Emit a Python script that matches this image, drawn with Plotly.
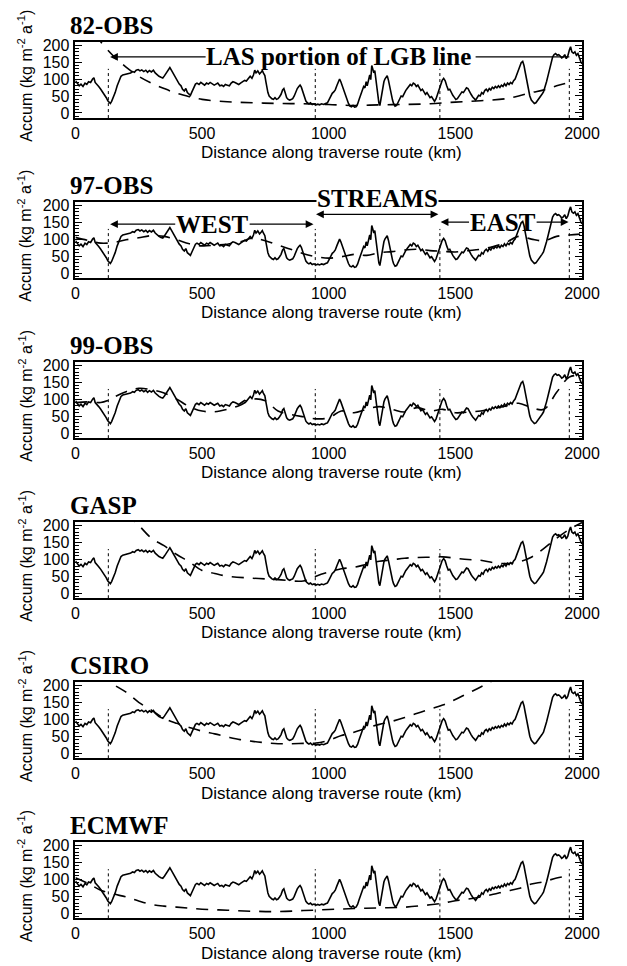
import plotly.graph_objects as go

W, H = 627, 966

# ---------------- data ----------------
dist_km = [0, 8, 15, 22, 30, 38, 45, 52, 60, 68, 73, 78, 85, 92, 100, 108, 115, 122, 128, 133, 138, 143, 150, 157, 165, 172, 180, 187, 195, 203, 210, 218, 226, 233, 240, 248, 255, 262, 270, 278, 285, 292, 300, 308, 315, 322, 330, 338, 345, 352, 360, 367, 373, 380, 387, 395, 402, 410, 417, 423, 430, 436, 442, 448, 454, 460, 467, 474, 480, 488, 495, 502, 510, 518, 525, 532, 540, 548, 555, 562, 570, 578, 585, 592, 600, 608, 615, 622, 630, 638, 645, 652, 660, 668, 675, 682, 690, 697, 703, 708, 713, 720, 727, 733, 738, 742, 748, 752, 756, 760, 765, 770, 776, 782, 788, 794, 800, 806, 812, 818, 823, 828, 834, 840, 846, 852, 858, 864, 870, 876, 882, 887, 892, 898, 904, 910, 916, 922, 928, 935, 942, 950, 957, 964, 972, 980, 988, 995, 1002, 1008, 1014, 1020, 1026, 1032, 1038, 1043, 1048, 1054, 1060, 1066, 1072, 1078, 1084, 1090, 1096, 1102, 1108, 1114, 1120, 1126, 1132, 1138, 1143, 1148, 1152, 1157, 1162, 1166, 1170, 1174, 1178, 1182, 1186, 1190, 1194, 1198, 1202, 1206, 1210, 1214, 1218, 1222, 1226, 1231, 1236, 1240, 1244, 1248, 1252, 1256, 1262, 1268, 1274, 1280, 1286, 1292, 1298, 1304, 1310, 1316, 1322, 1328, 1334, 1340, 1346, 1352, 1358, 1364, 1370, 1376, 1382, 1388, 1394, 1400, 1406, 1412, 1418, 1424, 1430, 1436, 1442, 1448, 1454, 1460, 1466, 1472, 1478, 1484, 1490, 1496, 1502, 1508, 1514, 1520, 1526, 1532, 1538, 1544, 1550, 1556, 1562, 1568, 1574, 1580, 1586, 1592, 1598, 1604, 1610, 1616, 1622, 1628, 1634, 1640, 1646, 1652, 1658, 1664, 1670, 1676, 1682, 1688, 1694, 1700, 1706, 1712, 1718, 1724, 1730, 1736, 1742, 1748, 1754, 1760, 1766, 1771, 1776, 1782, 1788, 1794, 1800, 1806, 1812, 1818, 1824, 1830, 1836, 1842, 1848, 1854, 1860, 1866, 1872, 1878, 1884, 1890, 1896, 1902, 1908, 1914, 1920, 1926, 1932, 1938, 1944, 1950, 1955, 1960, 1966, 1972, 1978, 1984, 1990, 1996, 2000]
obs_accum = [95, 88, 80, 85, 78, 88, 84, 92, 90, 100, 104, 90, 82, 78, 70, 62, 55, 45, 36, 30, 28, 34, 45, 60, 80, 95, 108, 112, 113, 116, 115, 118, 122, 120, 126, 128, 124, 127, 122, 126, 120, 125, 121, 126, 118, 112, 108, 105, 103, 110, 120, 130, 134, 125, 115, 108, 95, 85, 80, 70, 65, 72, 60, 56, 52, 62, 75, 85, 88, 84, 90, 86, 82, 88, 85, 90, 86, 82, 85, 88, 80, 82, 78, 84, 82, 80, 88, 92, 90, 86, 84, 88, 92, 96, 94, 100, 108, 102, 112, 126, 118, 124, 115, 120, 125, 118, 110, 92, 75, 60, 50, 45, 42, 40, 45, 40, 42, 48, 55, 68, 72, 60, 45, 40, 38, 40, 42, 50, 62, 72, 78, 82, 76, 60, 45, 35, 30, 27, 30, 25, 27, 24, 26, 24, 27, 25, 28, 30, 40, 52, 58, 62, 68, 80, 92, 100, 92, 78, 68, 55, 40, 28, 20, 18, 22, 17, 18, 26, 40, 55, 70, 78, 74, 92, 80, 100, 112, 98, 140, 130, 118, 125, 100, 80, 55, 30, 22, 40, 60, 78, 92, 100, 105, 110, 96, 80, 64, 50, 38, 28, 20, 22, 32, 42, 50, 48, 58, 66, 72, 78, 84, 80, 88, 85, 78, 82, 72, 66, 70, 60, 55, 60, 50, 45, 48, 40, 34, 42, 55, 70, 82, 96, 102, 95, 80, 68, 70, 58, 52, 46, 40, 42, 50, 55, 62, 60, 68, 74, 72, 62, 55, 48, 42, 38, 45, 52, 50, 60, 56, 66, 70, 64, 72, 68, 76, 72, 78, 74, 80, 75, 82, 78, 86, 80, 88, 84, 90, 86, 95, 100, 112, 125, 140, 148, 152, 140, 120, 95, 70, 50, 38, 32, 28, 30, 36, 40, 48, 55, 62, 75, 92, 110, 130, 150, 165, 172, 175, 170, 172, 168, 162, 165, 172, 160, 168, 185, 195, 180, 176, 180, 170, 175, 160, 150, 145]

panel_names = ["82-OBS", "97-OBS", "99-OBS", "GASP", "CSIRO", "ECMWF"]

obs82_km = [80, 100, 150, 200, 250, 300, 350, 400, 450, 500, 600, 700, 800, 900, 1000, 1100, 1200, 1300, 1400, 1500, 1600, 1700, 1750, 1800, 1850, 1900, 1950]
obs82_acc = [235, 210, 168, 135, 108, 88, 72, 58, 48, 40, 33, 30, 28, 27, 25, 22, 24, 25, 27, 32, 36, 42, 50, 60, 68, 80, 90]

obs97_km = [0, 50, 100, 150, 200, 250, 300, 350, 400, 450, 500, 550, 600, 650, 700, 750, 800, 850, 900, 950, 1000, 1050, 1100, 1150, 1200, 1250, 1300, 1350, 1400, 1450, 1500, 1550, 1600, 1650, 1700, 1750, 1800, 1850, 1900, 1950, 2000]
obs97_acc = [105, 96, 88, 90, 98, 104, 110, 108, 98, 86, 80, 82, 85, 92, 103, 95, 82, 70, 57, 48, 44, 48, 55, 52, 60, 63, 68, 70, 66, 64, 62, 66, 70, 78, 90, 108, 100, 95, 108, 112, 115]

obs99_km = [0, 50, 100, 125, 150, 200, 250, 300, 350, 400, 450, 500, 550, 600, 650, 700, 750, 800, 850, 900, 950, 1000, 1050, 1100, 1150, 1200, 1250, 1300, 1350, 1400, 1450, 1500, 1550, 1600, 1650, 1700, 1750, 1800, 1850, 1900, 1950, 2000]
obs99_acc = [90, 92, 90, 95, 105, 122, 132, 128, 118, 100, 78, 65, 63, 70, 82, 100, 95, 65, 55, 48, 42, 45, 65, 60, 70, 78, 70, 62, 75, 65, 70, 60, 62, 65, 72, 80, 88, 75, 70, 120, 165, 170]

gasp_km = [200, 250, 300, 350, 400, 450, 500, 550, 600, 700, 800, 900, 950, 1000, 1050, 1100, 1150, 1200, 1250, 1300, 1350, 1400, 1450, 1500, 1550, 1600, 1650, 1700, 1750, 1800, 1850, 1900, 1950, 2000]
gasp_acc = [235, 200, 162, 140, 114, 92, 67, 58, 50, 44, 40, 36, 50, 62, 72, 76, 85, 94, 98, 103, 105, 106, 107, 103, 99, 97, 90, 87, 92, 106, 132, 162, 188, 208]

csiro_km = [100, 150, 200, 250, 300, 350, 400, 450, 500, 550, 600, 650, 700, 750, 800, 850, 900, 950, 1000, 1050, 1100, 1150, 1200, 1250, 1300, 1350, 1400, 1450, 1500, 1550, 1600, 1650]
csiro_acc = [240, 203, 180, 150, 127, 103, 88, 76, 65, 57, 48, 40, 35, 31, 28, 28, 29, 30, 38, 52, 62, 74, 85, 94, 105, 118, 130, 142, 158, 177, 195, 215]

ecmwf_km = [0, 50, 100, 150, 200, 250, 300, 350, 400, 450, 500, 600, 700, 800, 900, 1000, 1100, 1200, 1300, 1400, 1450, 1500, 1550, 1600, 1650, 1700, 1750, 1800, 1850, 1900, 1950]
ecmwf_acc = [105, 88, 68, 57, 48, 36, 26, 21, 18, 15, 12, 9, 6, 5, 8, 11, 14, 16, 18, 25, 30, 37, 42, 48, 56, 65, 73, 86, 93, 104, 110]

compare_km = [obs82_km, obs97_km, obs99_km, gasp_km, csiro_km, ecmwf_km]
compare_acc = [obs82_acc, obs97_acc, obs99_acc, gasp_acc, csiro_acc, ecmwf_acc]

boundary_km = [130, 947, 1439, 1950]
x_ticks = [0, 500, 1000, 1500, 2000]

# ---------------- layout helpers ----------------
PITCH = 161.4
TOP0, BOT0 = 37, 114
X_LEFT, X_RIGHT = 74, 599
YR = [-15, 210]

def py(px):
    return 1 - px / H

def pxx(px):
    return px / W

SANS = "Liberation Sans, Arial, sans-serif"
SERIF = "Liberation Serif, Times New Roman, serif"

fig = go.Figure()
layout = dict(
    width=W, height=H,
    margin=dict(l=0, r=0, t=0, b=0),
    paper_bgcolor="white", plot_bgcolor="white",
    showlegend=False,
    annotations=[], shapes=[],
)

for i, name in enumerate(panel_names):
    n = i + 1
    xa = "x" if n == 1 else f"x{n}"
    ya = "y" if n == 1 else f"y{n}"
    top = TOP0 + PITCH * i
    bot = BOT0 + PITCH * i

    fig.add_trace(go.Scatter(x=dist_km, y=obs_accum, mode="lines",
                             line=dict(color="black", width=1.6),
                             xaxis=xa, yaxis=ya, hoverinfo="skip"))
    fig.add_trace(go.Scatter(x=compare_km[i], y=compare_acc[i], mode="lines",
                             line=dict(color="black", width=1.6, dash="12px,9px", shape="spline"),
                             xaxis=xa, yaxis=ya, hoverinfo="skip"))

    layout[f"xaxis{'' if n == 1 else n}"] = dict(
        domain=[pxx(X_LEFT), pxx(X_RIGHT)], range=[0, 2000], anchor=ya,
        showline=True, mirror=True, linecolor="black", linewidth=1.6,
        ticks="", tickmode="array", tickvals=x_ticks, showgrid=False, zeroline=False,
        tickfont=dict(family=SANS, size=16, color="black"),
        ticklabelstandoff=0,
    )
    layout[f"yaxis{'' if n == 1 else n}"] = dict(
        domain=[py(bot), py(top)], range=YR, anchor=xa,
        showline=True, mirror="ticks", linecolor="black", linewidth=1.6,
        ticks="inside", ticklen=7, tickwidth=1.3, tickcolor="black",
        tickmode="linear", tick0=0, dtick=50, showgrid=False, zeroline=False,
        minor=dict(tickmode="linear", tick0=0, dtick=10, ticks="inside", ticklen=3.5,
                   tickwidth=1, tickcolor="black", showgrid=False),
        tickfont=dict(family=SANS, size=16, color="black"),
        ticklabelstandoff=1,
    )

    # boundary markers
    for b in boundary_km:
        layout["shapes"].append(dict(type="line", xref=xa, yref=ya, x0=b, x1=b, y0=YR[0], y1=130,
                                     line=dict(color="black", width=1, dash="3px,3px")))

    # panel title
    layout["annotations"].append(dict(text=f"<b>{name}</b>", xref="paper", yref="paper",
                                      x=pxx(66), y=py(top - 1), xanchor="left", yanchor="bottom",
                                      showarrow=False, font=dict(family=SERIF, size=25, color="black")))
    # y title
    layout["annotations"].append(dict(text="Accum (kg m<sup>-2</sup> a<sup>-1</sup>)", xref="paper", yref="paper",
                                      x=pxx(22), y=py(top + 34), xanchor="center", yanchor="middle",
                                      textangle=-90, showarrow=False,
                                      font=dict(family=SANS, size=16, color="black")))
    # x title
    layout["annotations"].append(dict(text="Distance along traverse route (km)", xref="paper", yref="paper",
                                      x=pxx(339), y=py(bot + 35), xanchor="center", yanchor="middle",
                                      showarrow=False, font=dict(family=SANS, size=17, color="black")))

BOLD = dict(family=SERIF, size=25, color="black")
ARW = dict(showarrow=True, arrowhead=2, arrowsize=1.3, arrowwidth=1.2, arrowcolor="black", text="")

# Panel 1: LAS portion of LGB line
layout["annotations"].append(dict(text="<b>LAS portion of LGB line</b>", xref="x", yref="y",
                                  x=1040, y=165, showarrow=False, font=BOLD))
layout["annotations"].append(dict(xref="x", yref="y", axref="x", ayref="y",
                                  x=137, y=165, ax=520, ay=165, **ARW))
layout["shapes"].append(dict(type="line", xref="x", yref="y", x0=1580, x1=1950, y0=165, y1=165,
                             line=dict(color="black", width=1.2)))

# Panel 2: WEST / STREAMS / EAST
p2_top = TOP0 + PITCH
layout["annotations"].append(dict(text="<b>WEST</b>", xref="x2", yref="y2", x=541, y=144,
                                  showarrow=False, font=BOLD))
layout["annotations"].append(dict(xref="x2", yref="y2", axref="x2", ayref="y2",
                                  x=137, y=144, ax=400, ay=144, **ARW))
layout["annotations"].append(dict(xref="x2", yref="y2", axref="x2", ayref="y2",
                                  x=940, y=144, ax=682, ay=144, **ARW))

layout["annotations"].append(dict(text="<b>STREAMS</b>", xref="x2", yref="paper", x=1192, y=py(p2_top - 3),
                                  yanchor="middle", showarrow=False, font=BOLD, bgcolor="white", borderpad=0))
layout["annotations"].append(dict(xref="x2", yref="y2", axref="x2", ayref="y2",
                                  x=950, y=173, ax=1439, ay=173, arrowside="end+start", **ARW))

layout["annotations"].append(dict(text="<b>EAST</b>", xref="x2", yref="y2", x=1688, y=150,
                                  showarrow=False, font=BOLD))
layout["annotations"].append(dict(xref="x2", yref="y2", axref="x2", ayref="y2",
                                  x=1442, y=150, ax=1560, ay=150, **ARW))
layout["annotations"].append(dict(xref="x2", yref="y2", axref="x2", ayref="y2",
                                  x=1947, y=150, ax=1815, ay=150, **ARW))

fig.update_layout(**layout)
fig.write_html("out.html", config={"displayModeBar": False})
